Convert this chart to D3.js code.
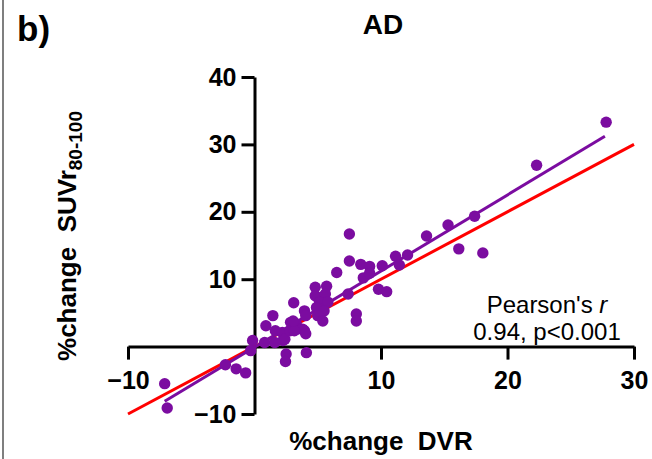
<!DOCTYPE html>
<html lang="en">
<head>
    <meta charset="UTF-8">
    <title>AD - %change SUVr vs DVR</title>
    <style>
        body, html {
            margin: 0;
            padding: 0;
            background: #ffffff;
            font-family: Arial, 'Liberation Sans', sans-serif;
        }
        svg { display: block; }
        .axis path, .axis line {
            stroke: #000;
            stroke-width: 3px;
        }
        .axis text {
            font: bold 25px Arial, 'Liberation Sans', sans-serif;
            fill: #000;
        }
    </style>
</head>
<body>
    <svg width="652" height="459"></svg>

    <script src="https://d3js.org/d3.v7.min.js"></script>
    <script>
        // %change DVR (x) and %change SUVr80-100 (y)
        const dvrChange = [
            -7.1, -6.9, -2.3, -1.45, -0.7, -0.15, -0.3,
            0.9, 0.8, 1.45, 1.65, 2.2, 2.25, 2.4, 1.6, 2.85, 3.3, 3.95, 2.8, 3.4,
            3.8, 4.05, 3.15, 2.5, 2.45, 4.1, 3.1, 3.95, 4.05, 3.05,
            4.8, 5.0, 5.7, 4.8, 5.6, 5.15, 5.8, 4.9, 5.5, 5.0, 5.4,
            6.5, 7.5, 7.5, 7.4, 8.05, 8.05,
            8.4, 9.1, 8.6, 9.1, 9.8, 10.45, 10.1, 11.15, 11.45, 12.1,
            13.6, 15.3, 16.15, 17.4, 18.05, 22.3, 27.8
        ];
        const suvrChange = [
            -5.5, -9.1, -2.7, -3.3, -3.9, 0.9, -0.6,
            3.1, 0.6, 4.6, 2.35, 2.1, 0.9, 1.1, 0.6, 3.6, 3.35, 2.35, 2.35, 2.6,
            2.6, 1.9, 2.35, -1.1, -2.2, -0.9, 6.5, 5.3, 4.6, 3.8,
            8.8, 7.3, 8.95, 7.55, 7.8, 6.6, 6.6, 5.8, 5.3, 4.6, 3.8,
            11.0, 16.7, 12.7, 7.8, 4.85, 3.8,
            12.2, 11.9, 10.2, 10.9, 8.5, 8.15, 12.0, 13.4, 12.1, 13.6,
            16.4, 18.05, 14.5, 19.35, 13.9, 26.9, 33.3
        ];

        // linear fit (purple) end points and line of identity (red)
        const fitX = [-7.1, 27.7];
        const fitY = [-8.1, 31.2];
        const identity = [-10, 30];

        const xTicks = [-10, 10, 20, 30];
        const yTicks = [-10, 10, 20, 30, 40];

        const purple = "#7b0ca0";
        const svg = d3.select("svg");

        const x = d3.scaleLinear().domain([-10, 30]).range([128, 634]);
        const y = d3.scaleLinear().domain([-10, 40]).range([414, 77]);

        // thin frame line on the left edge
        svg.append("line")
            .attr("x1", 3).attr("x2", 3)
            .attr("y1", 0).attr("y2", 459)
            .attr("stroke", "#555").attr("stroke-width", 1.5);

        // axes crossing at the origin
        svg.append("g")
            .attr("class", "axis")
            .attr("transform", `translate(0,${y(0)})`)
            .call(d3.axisBottom(x).tickValues(xTicks).tickSize(13).tickSizeOuter(0).tickPadding(12));

        svg.append("g")
            .attr("class", "axis")
            .attr("transform", `translate(${x(0)},0)`)
            .call(d3.axisLeft(y).tickValues(yTicks).tickSize(13).tickSizeOuter(0).tickPadding(5));

        // red identity line
        svg.append("line")
            .attr("x1", x(identity[0])).attr("y1", y(identity[0]))
            .attr("x2", x(identity[1])).attr("y2", y(identity[1]))
            .attr("stroke", "#ff0000").attr("stroke-width", 3);

        // purple regression line
        svg.append("line")
            .attr("x1", x(fitX[0])).attr("y1", y(fitY[0]))
            .attr("x2", x(fitX[1])).attr("y2", y(fitY[1]))
            .attr("stroke", purple).attr("stroke-width", 3);

        // points
        svg.append("g")
            .selectAll("circle")
            .data(dvrChange.map((d, i) => [d, suvrChange[i]]))
            .enter()
            .append("circle")
            .attr("cx", d => x(d[0]))
            .attr("cy", d => y(d[1]))
            .attr("r", 5.7)
            .attr("fill", purple);

        // texts
        svg.append("text")
            .attr("x", 383).attr("y", 34)
            .attr("text-anchor", "middle")
            .style("font", "bold 28px Arial, 'Liberation Sans', sans-serif")
            .text("AD");

        svg.append("text")
            .attr("x", 17).attr("y", 41)
            .style("font", "bold 35px Arial, 'Liberation Sans', sans-serif")
            .text("b)");

        svg.append("text")
            .attr("x", 381).attr("y", 450)
            .attr("text-anchor", "middle")
            .style("font", "bold 26px Arial, 'Liberation Sans', sans-serif")
            .style("white-space", "pre")
            .text("%change  DVR");

        const yLab = svg.append("text")
            .attr("transform", "translate(76,236) rotate(-90)")
            .attr("text-anchor", "middle")
            .style("font", "bold 26px Arial, 'Liberation Sans', sans-serif")
            .style("white-space", "pre");
        yLab.append("tspan").text("%change  SUVr");
        yLab.append("tspan")
            .attr("dy", 6)
            .style("font-size", "19px")
            .text("80-100");

        const stats = svg.append("text")
            .attr("text-anchor", "middle")
            .style("font", "24px Arial, 'Liberation Sans', sans-serif");
        const l1 = stats.append("tspan").attr("x", 547).attr("y", 313);
        l1.append("tspan").text("Pearson's ");
        l1.append("tspan").style("font-style", "italic").text("r");
        stats.append("tspan").attr("x", 547).attr("y", 340).text("0.94, p<0.001");
    </script>
</body>
</html>
